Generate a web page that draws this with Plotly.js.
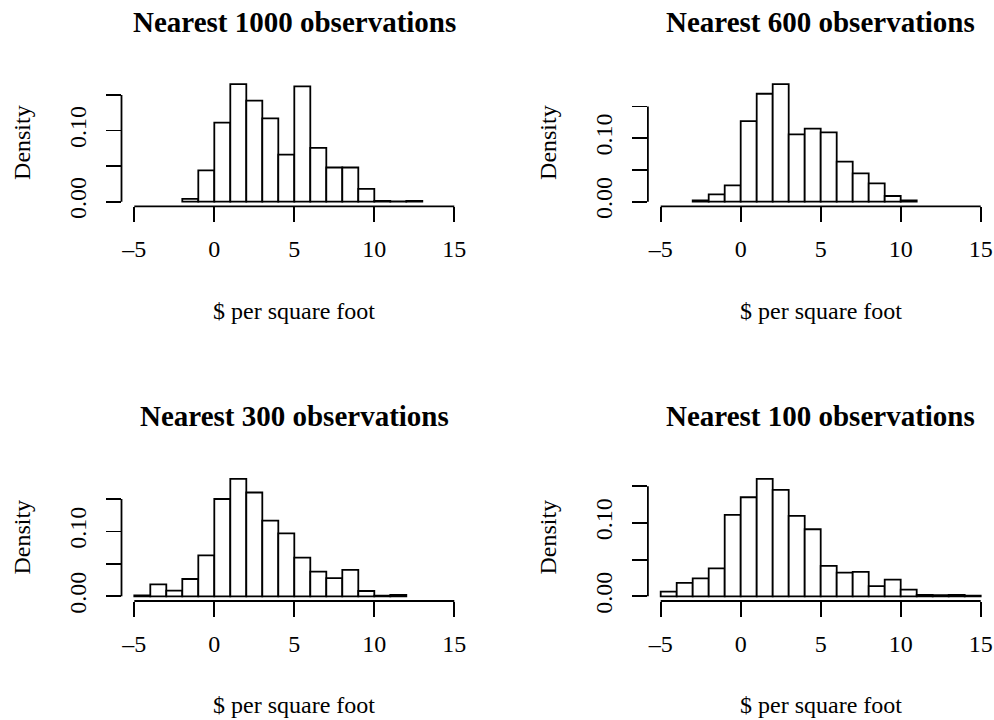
<!DOCTYPE html>
<html>
<head>
<meta charset="utf-8">
<script src="https://cdn.plot.ly/plotly-3.0.1.min.js"></script>
<style>html,body{margin:0;padding:0;background:#fff}#chart{width:994px;height:720px}</style>
</head>
<body>
<div id="chart"></div>
<script>
// ---- data (bin left edges, bin width 1, and densities) ----
const titles = ['Nearest 1000 observations', 'Nearest 600 observations', 'Nearest 300 observations', 'Nearest 100 observations'];

const bins1000 = [-2, -1, 0, 1, 2, 3, 4, 5, 6, 7, 8, 9, 10, 11, 12];
const dens1000 = [0.004, 0.044, 0.111, 0.165, 0.142, 0.117, 0.066, 0.162, 0.0755, 0.048, 0.048, 0.018, 0.001, 0.0005, 0.001];

const bins600 = [-3, -2, -1, 0, 1, 2, 3, 4, 5, 6, 7, 8, 9, 10];
const dens600 = [0.002, 0.0116, 0.0258, 0.127, 0.170, 0.185, 0.106, 0.115, 0.109, 0.063, 0.0447, 0.029, 0.009, 0.002];

const bins300 = [-5, -4, -3, -2, -1, 0, 1, 2, 3, 4, 5, 6, 7, 8, 9, 10, 11];
const dens300 = [0.0015, 0.0185, 0.0087, 0.0267, 0.0632, 0.150, 0.181, 0.160, 0.1166, 0.097, 0.0596, 0.038, 0.028, 0.0406, 0.0082, 0.001, 0.002];

const bins100 = [-5, -4, -3, -2, -1, 0, 1, 2, 3, 4, 5, 6, 7, 8, 9, 10, 11, 12, 13, 14];
const dens100 = [0.0064, 0.0182, 0.0245, 0.038, 0.111, 0.135, 0.160, 0.145, 0.1095, 0.0914, 0.0414, 0.0323, 0.0332, 0.014, 0.0227, 0.009, 0.0018, 0.0015, 0.002, 0.001];

const xTickVals = [-5, 0, 5, 10, 15];
const xTickText = ['\u20135', '0', '5', '10', '15'];
const yTickVals = [0, 0.05, 0.10, 0.15];
const yTickText = ['0.00', '', '0.10', ''];
const xLabel = '$ per square foot';
const yLabel = 'Density';

// ---- layout geometry ----
const W = 994, H = 720;
const colPx = [[121.5, 467.1], [647.9, 993.5]];
const rowPx = [[79.5, 206.4], [474.2, 601.0]];
const titleY = [22, 416];
const xlabY = [311, 705];
const ylabX = [22, 548];

const panels = [
  {bins: bins1000, dens: dens1000, r: 0, c: 0},
  {bins: bins600, dens: dens600, r: 0, c: 1},
  {bins: bins300, dens: dens300, r: 1, c: 0},
  {bins: bins100, dens: dens100, r: 1, c: 1}
];

const FONT = 'Liberation Serif, Times New Roman, serif';
const LW = 1.8;
const data = [];
const layout = {
  width: W, height: H,
  margin: {l: 0, r: 0, t: 0, b: 0},
  paper_bgcolor: '#fff', plot_bgcolor: '#fff',
  showlegend: false,
  bargap: 0,
  font: {family: FONT, size: 24, color: '#000'},
  shapes: [], annotations: []
};

panels.forEach((p, i) => {
  const n = i + 1;
  const xa = 'x' + (n === 1 ? '' : n), ya = 'y' + (n === 1 ? '' : n);
  const xkey = 'xaxis' + (n === 1 ? '' : n), ykey = 'yaxis' + (n === 1 ? '' : n);
  const ymax = Math.max(...p.dens);
  const xd = [colPx[p.c][0] / W, colPx[p.c][1] / W];
  const yd = [1 - rowPx[p.r][1] / H, 1 - rowPx[p.r][0] / H];

  data.push({
    type: 'bar', xaxis: xa, yaxis: ya,
    x: p.bins.map(b => b + 0.5), y: p.dens, width: p.bins.map(() => 1),
    marker: {color: '#fff', line: {color: '#000', width: LW}},
    hoverinfo: 'x+y'
  });

  layout[xkey] = {
    domain: xd, anchor: ya, range: [-5.8, 15.8],
    tickmode: 'array', tickvals: xTickVals, ticktext: xTickText,
    ticks: 'outside', ticklen: 15, tickwidth: LW, tickcolor: '#000',
    showgrid: false, zeroline: false, showline: false,
    tickfont: {family: FONT, size: 24, color: '#000'},
    ticklabelstandoff: 6
  };
  layout[ykey] = {
    domain: yd, anchor: xa, range: [-0.04 * ymax, 1.04 * ymax],
    tickmode: 'array', tickvals: yTickVals, ticktext: yTickText,
    ticks: 'outside', ticklen: 15, tickwidth: LW, tickcolor: '#000',
    tickangle: -90,
    showgrid: false, zeroline: false, showline: false,
    tickfont: {family: FONT, size: 24, color: '#000'},
    ticklabelstandoff: 10
  };

  // R-style axis lines spanning first to last tick
  layout.shapes.push({type: 'line', xref: xa, yref: 'paper', x0: xTickVals[0], x1: xTickVals[xTickVals.length - 1], y0: yd[0], y1: yd[0], line: {color: '#000', width: LW}});
  layout.shapes.push({type: 'line', xref: 'paper', yref: ya, x0: xd[0], x1: xd[0], y0: yTickVals[0], y1: yTickVals[yTickVals.length - 1], line: {color: '#000', width: LW}});

  const xc = (xd[0] + xd[1]) / 2;
  layout.annotations.push({text: '<b>' + titles[i] + '</b>', xref: 'paper', yref: 'paper', x: xc, y: 1 - titleY[p.r] / H, xanchor: 'center', yanchor: 'middle', showarrow: false, font: {family: FONT, size: 29, color: '#000'}});
  layout.annotations.push({text: xLabel, xref: 'paper', yref: 'paper', x: xc, y: 1 - xlabY[p.r] / H, xanchor: 'center', yanchor: 'middle', showarrow: false, font: {family: FONT, size: 24, color: '#000'}});
  layout.annotations.push({text: yLabel, xref: 'paper', yref: 'paper', x: ylabX[p.c] / W, y: (yd[0] + yd[1]) / 2, xanchor: 'center', yanchor: 'middle', textangle: -90, showarrow: false, font: {family: FONT, size: 24, color: '#000'}});
});

Plotly.newPlot('chart', data, layout, {staticPlot: true, displayModeBar: false});
</script>
</body>
</html>
